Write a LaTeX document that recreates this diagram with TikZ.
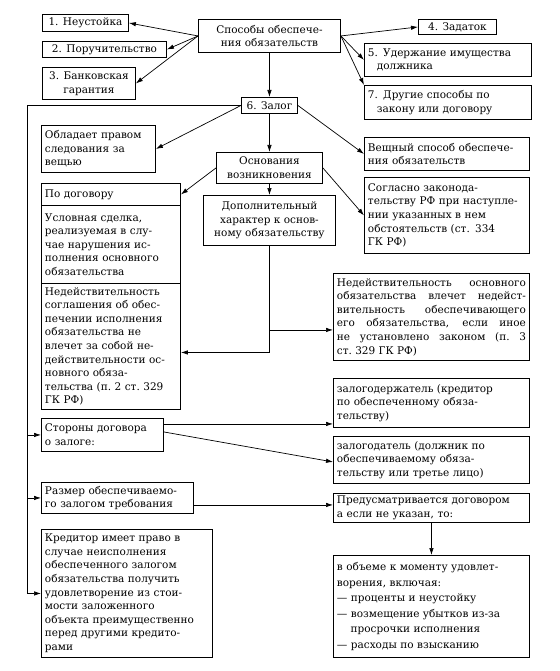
\documentclass[tikz,border=0pt]{standalone}
\usepackage{fontspec}
\setmainfont{DejaVu Serif}
\usetikzlibrary{arrows.meta}
\usetikzlibrary{calc}

\begin{document}
\begin{tikzpicture}[x=1pt,y=-1pt,>={Latex[length=7pt,width=4.5pt]},line width=0.7pt,font=\fontsize{10.5}{13.6}\selectfont]
  \tikzstyle{blk}=[draw, line width=0.9pt, anchor=north west, inner xsep=3.5pt, inner ysep=2pt]
  \tikzstyle{cblk}=[blk, align=center]
  \tikzstyle{lblk}=[blk, align=left]
  \tikzstyle{jblk}=[blk, align=justify]
  \tikzstyle{link}=[->]
  \useasboundingbox (0,0) rectangle (559,671);

  % top row
  \node[cblk, minimum width=142, minimum height=33] (sposoby) at (198,19) {Способы обеспече-\\ния обязательств};
  \node[cblk, minimum width=86, minimum height=17] (neust) at (42,14) {1. Неустойка};
  \node[cblk, minimum width=124, minimum height=16] (poruch) at (42,41) {2. Поручительство};
  \node[cblk, minimum width=93, minimum height=32] (bank) at (42,67) {3. Банковская\\гарантия};
  \node[cblk, minimum width=78, minimum height=15] (zadatok) at (418,19) {4. Задаток};
  \node[lblk, text width=160, minimum height=33] (uderzh) at (364,43) {5. Удержание имущества\\\hspace*{9pt}должника};
  \node[lblk, text width=160, minimum height=34] (drugie) at (364,85) {7. Другие способы по\\\hspace*{9pt}закону или договору};
  \node[cblk, minimum width=56, minimum height=16] (zalog) at (241,97) {6. Залог};

  % pledge
  \node[lblk, text width=107, minimum height=47] (obladaet) at (41,125) {Обладает правом\\следования за\\вещью};
  \node[cblk, minimum width=106, minimum height=31] (osnov) at (216,152) {Основания\\возникновения};
  \node[cblk, minimum width=132, minimum height=50] (dopoln) at (203,195) {Дополнительный\\характер к основ-\\ному обязательству};
  \node[lblk, text width=158, minimum height=33] (veshch) at (364,137) {Вещный способ обеспече-\\ния обязательств};
  \node[lblk, text width=158, minimum height=76] (soglasno) at (364,177) {Согласно законода-\\тельству РФ при наступле-\\нии указанных в нем\\обстоятельств (ст. 334\\ГК РФ)};
  \node[lblk, text width=132, minimum height=22] (podog) at (41,183) {По договору};
  \node[lblk, text width=132, minimum height=78] (uslovn) at (41,205) {Условная сделка,\\реализуемая в слу-\\чае нарушения ис-\\полнения основного\\обязательства};
  \node[lblk, text width=132, minimum height=126] (nedleft) at (41,283) {Недействительность\\соглашения об обес-\\печении исполнения\\обязательства не\\влечет за собой не-\\действительности ос-\\новного обяза-\\тельства (п.~2 ст.~329\\ГК РФ)};
  \node[jblk, text width=189, minimum height=87] (nedright) at (333,273) {Недействительность основного\linebreak обязательства влечет недейст-\linebreak вительность обеспечивающего\linebreak его обязательства, если иное\linebreak не установлено законом (п.~3\linebreak ст.~329 ГК РФ)};

  % parties and amount
  \node[lblk, text width=189, minimum height=49] (derzh) at (333,378) {залогодержатель (кредитор\\по обеспеченному обяза-\\тельству)};
  \node[lblk, text width=189, minimum height=47] (datel) at (333,436) {залогодатель (должник по\\обеспечиваемому обяза-\\тельству или третье лицо)};
  \node[lblk, text width=115, minimum height=33] (storony) at (41,418) {Стороны договора\\о залоге:};
  \node[lblk, text width=145, minimum height=31] (razmer) at (41,482) {Размер обеспечиваемо-\\го залогом требования};
  \node[lblk, text width=189, minimum height=29] (predus) at (333,493) {Предусматривается договором\\а если не указан, то:};
  \node[lblk, text width=164, minimum height=128] (kreditor) at (41,529) {Кредитор имеет право в\\случае неисполнения\\обеспеченного залогом\\обязательства получить\\удовлетворение из стои-\\мости заложенного\\объекта преимущественно\\перед другими кредито-\\рами};
  \node[lblk, text width=189, minimum height=102, font=\fontsize{10.5}{15.5}\selectfont] (obeme) at (333,555) {в объеме к моменту удовлет-\\ворения, включая:\\— проценты и неустойку\\— возмещение убытков из-за\\\hspace*{1.3em}просрочки исполнения\\— расходы по взысканию};

  % connectors
  \coordinate (bus) at (27,0);
  \path
    (sposoby.west) edge[link] (neust.east)
    (sposoby.west) edge[link] (poruch.east)
    (sposoby.west) edge[link] (bank.east)
    (sposoby.east) edge[link] (zadatok.west)
    (sposoby.east) edge[link] (uderzh.west)
    (sposoby.east) edge[link] (drugie.north west)
    (sposoby.south) edge[link] (zalog.north)
    (zalog.west) edge[link] (obladaet.east)
    (zalog.east) edge[link] (veshch.west)
    (zalog.south) edge[link] (osnov.north)
    (osnov.south) edge[link] (dopoln.north)
    (osnov.west) edge[link] (podog.east)
    (osnov.east) edge[link] (soglasno.west)
    (predus.south) edge[link] (obeme.north);

  \draw[link] (zalog.west) -| (bus |- kreditor.west) -- (kreditor.west);
  \draw[link] (bus |- storony.west) -- (storony.west);
  \draw[link] (bus |- razmer.west) -- (razmer.west);

  \draw[link] (dopoln.south) |- ([yshift=-6pt]nedleft.east);
  \coordinate (br) at ([yshift=-13pt]nedright.west);
  \draw[link] (dopoln.south |- br) -- (br);

  \coordinate (s1) at ([yshift=11pt]storony.east);
  \draw[link] (s1) -- (s1 -| derzh.west);
  \draw[link] ([yshift=3pt]storony.east) -- ([yshift=-2pt]datel.west);
  \coordinate (r1) at ([yshift=-7pt]razmer.east);
  \draw[link] (r1) -- (r1 -| predus.west);
\end{tikzpicture}
\end{document}
